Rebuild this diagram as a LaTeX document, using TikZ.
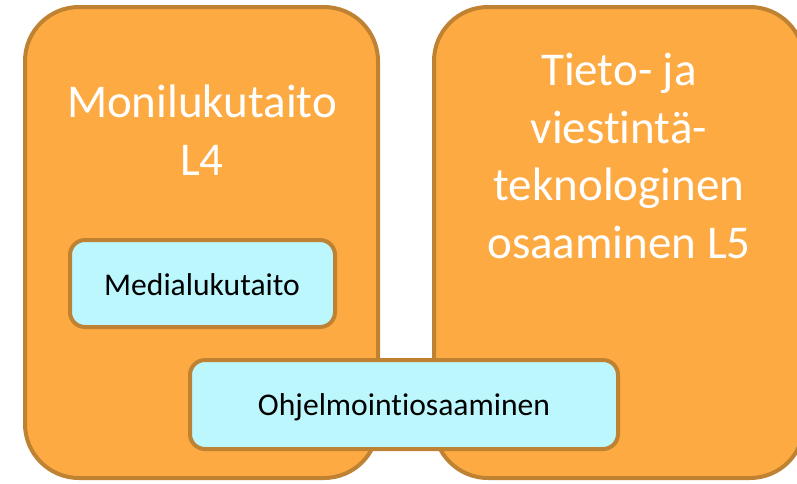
\documentclass[tikz,border=0pt]{standalone}
\usepackage{fontspec}
\setmainfont[RawFeature={-liga}]{Carlito}
\definecolor{orangefill}{HTML}{FDAA43}
\definecolor{brownline}{HTML}{BF8232}
\definecolor{cyanfill}{HTML}{BBF7FD}
\begin{document}
\begin{tikzpicture}[x=1pt,y=-1pt,
  bigbox/.style={draw=brownline, fill=orangefill, line width=4pt, rounded corners=54pt, inner sep=0pt},
  smallbox/.style={draw=brownline, fill=cyanfill, line width=4pt, rounded corners=15pt, inner sep=0pt},
  bigtext/.style={text=white, align=center, font=\fontsize{47}{57.5}\selectfont, inner sep=0pt},
  smalltext/.style={text=black, font=\fontsize{31.6}{38}\selectfont, inner sep=0pt}]
\useasboundingbox (0,0) rectangle (797,483);
\begin{scope}
\clip (0,0) rectangle (797,483);
\node[bigbox, minimum width=353pt, minimum height=471pt] (mlt) at (201.5,242.5) {};
\node[bigbox, minimum width=370pt, minimum height=471pt] (tvt) at (619,242.5) {};
\node[smallbox, minimum width=265pt, minimum height=87pt] (mdl) at (202.5,283.5) {};
\node[smallbox, minimum width=428pt, minimum height=89pt] (ohj) at (404,404.5) {};
\node[bigtext, anchor=base] (mltt) at (202,175) {Monilukutaito\\L4};
\node[bigtext, anchor=base] (tvtt) at (619,258) {Tieto- ja\\viestintä-\\teknologinen\\osaaminen L5};
\node[smalltext, anchor=base] (mdlt) at (202,295) {Medialukutaito};
\node[smalltext, anchor=base] (ohjt) at (404,415) {Ohjelmointiosaaminen};
\end{scope}
\end{tikzpicture}
\end{document}
